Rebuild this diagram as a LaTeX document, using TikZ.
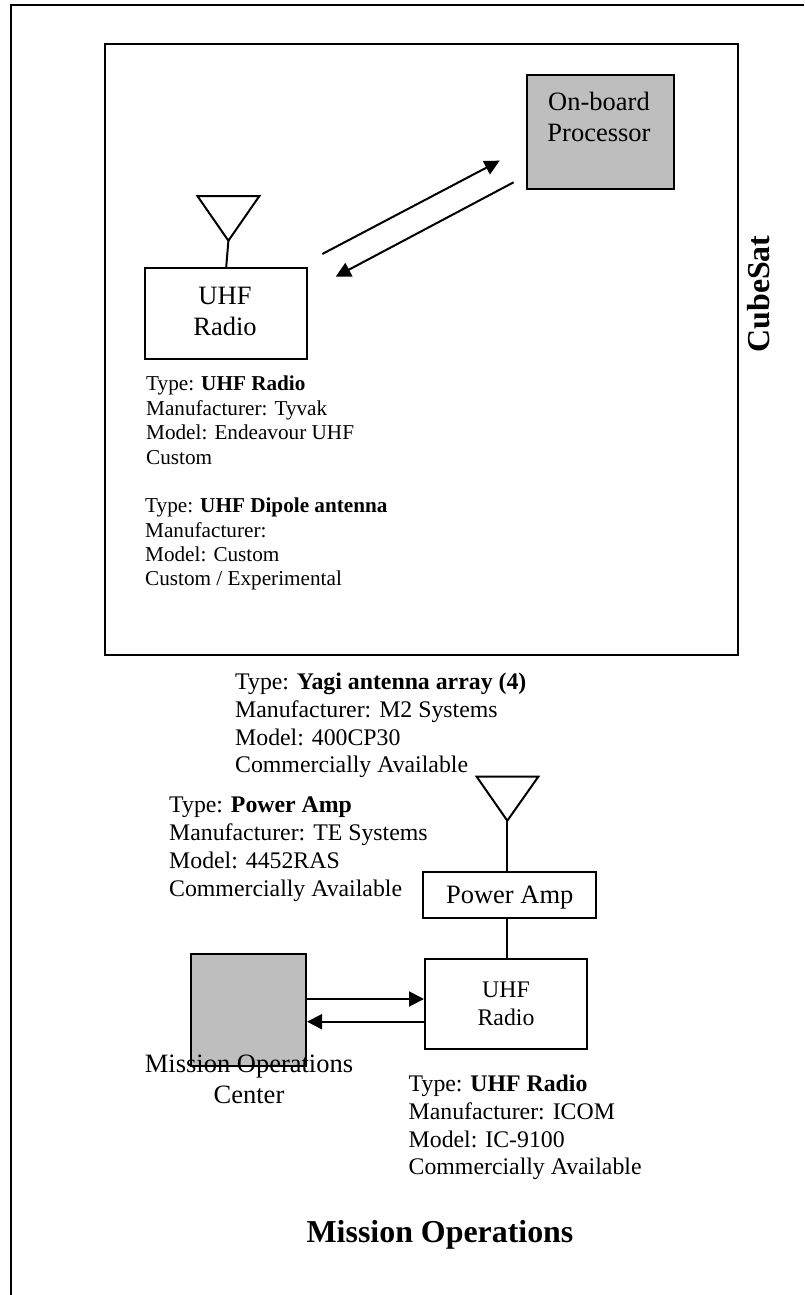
\documentclass[tikz,border=0pt]{standalone}
\usepackage{fontspec}
\setmainfont{Liberation Serif}
\usepackage{tikz}
\usetikzlibrary{arrows.meta,positioning,calc}
\definecolor{CSgray}{RGB}{190,190,190}
\tikzset{
  unit/.style={draw=black,line width=2pt,inner sep=0pt},
  graybox/.style={unit,fill=CSgray},
  tag/.style={inner sep=0pt,align=center,font=\fontsize{26.5}{31}\selectfont},
  spec/.style={anchor=north west,inner sep=0pt,align=left,
               font=\fontsize{23.8}{27.7}\selectfont},
  specsmall/.style={spec,font=\fontsize{21.2}{24.4}\selectfont},
  heading/.style={inner sep=0pt,font=\fontsize{31.9}{36}\selectfont\bfseries},
  wire/.style={line width=2pt},
  fl/.style={-{Triangle[length=15pt,width=15pt]},line width=2pt}
}
\begin{document}
\begin{tikzpicture}[x=1pt,y=-1pt]
  \useasboundingbox (0,0) rectangle (804,1295);
  % frames
  \coordinate (ftr) at (804,5);
  \coordinate (ftl) at (11,5);
  \coordinate (fbl) at (11,1295);
  \draw[wire] (ftr) -- (ftl) -- (fbl);
  \node[unit,minimum width=633pt,minimum height=611pt] (sat) at (421,349.7) {};
  % cubesat
  \node[graybox,anchor=north west,minimum width=146.5pt,minimum height=114pt] (obc) at (526,74) {};
  \node[tag] (obclabel) at (599,117) {On-board\\Processor};
  \node[unit,minimum width=162.5pt,minimum height=90.7pt] (radio) at (226.2,313.6) {};
  \node[tag] (radiolabel) at (225,311) {UHF\\Radio};
  \coordinate (a1) at (197.4,196);
  \coordinate (a2) at (259.4,196);
  \coordinate (a3) at (228.4,240.7);
  \draw[wire] (a1) -- (a2) -- (a3) -- cycle;
  \draw[wire] (a3) -- (radio.north);
  \coordinate (u1) at (322.3,254);
  \coordinate (u2) at (499.6,160.7);
  \coordinate (d1) at (513.6,182.3);
  \coordinate (d2) at (335.7,276.7);
  \draw[fl] (u1) -- (u2);
  \draw[fl] (d1) -- (d2);
  \node[specsmall] (radiospec) at (146,376) {Type: \textbf{UHF Radio}\\Manufacturer: Tyvak\\Model: Endeavour UHF\\Custom};
  \node[specsmall] (dipolespec) at (145,497.7) {Type: \textbf{UHF Dipole antenna}\\Manufacturer:\\Model: Custom\\Custom / Experimental};
  \node[heading,rotate=90] (cubesat) at (759,294) {CubeSat};
  % ground
  \node[spec] (yagispec) at (235,673) {Type: \textbf{Yagi antenna array (4)}\\Manufacturer: M2 Systems\\Model: 400CP30\\Commercially Available};
  \node[spec] (ampspec) at (169,797) {Type: \textbf{Power Amp}\\Manufacturer: TE Systems\\Model: 4452RAS\\Commercially Available};
  \coordinate (b1) at (476.7,776.7);
  \coordinate (b2) at (538.3,776.7);
  \coordinate (b3) at (507.3,820.7);
  \draw[wire] (b1) -- (b2) -- (b3) -- cycle;
  \node[unit,minimum width=172.7pt,minimum height=46.3pt] (amp) at (509.7,894.8) {};
  \node[tag] (amplabel) at (509.7,898) {Power Amp};
  \draw[wire] (b3) -- (b3 |- amp.north);
  \node[unit,align=center,minimum width=162pt,minimum height=89.7pt,font=\fontsize{23.8}{28}\selectfont] (gndradio) at (506,1004.2) {UHF\\Radio};
  \draw[wire] (b3 |- amp.south) -- (b3 |- gndradio.north);
  \node[graybox,minimum width=115.3pt,minimum height=112pt] (moc) at (248.4,1010) {};
  \coordinate (g1) at (306,999);
  \coordinate (g2) at (425,1021.7);
  \draw[fl] (g1) -- (g1 -| gndradio.west);
  \draw[fl] (g2) -- (g2 -| moc.east);
  \node[tag,anchor=north] (moclabel) at (249,1054.5) {Mission Operations\\Center};
  \node[spec] (icomspec) at (408.5,1075) {Type: \textbf{UHF Radio}\\Manufacturer: ICOM\\Model: IC-9100\\Commercially Available};
  \node[heading] (title) at (440,1235) {Mission Operations};
\end{tikzpicture}
\end{document}
